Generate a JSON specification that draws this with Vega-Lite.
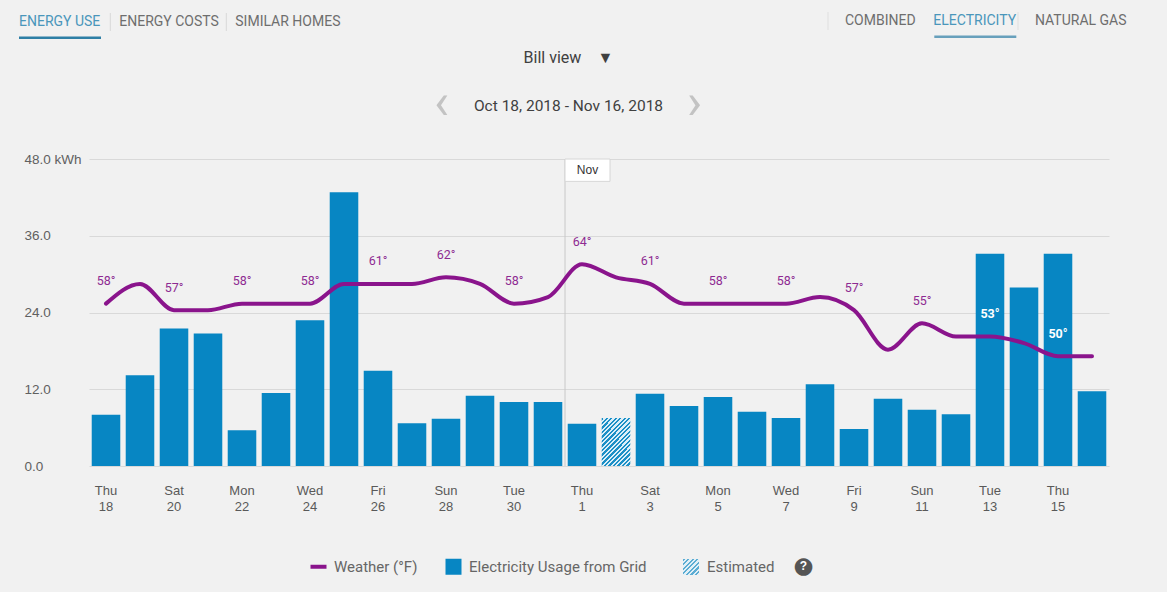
{
  "$schema": "https://vega.github.io/schema/vega-lite/v6.json",
  "width": 1020,
  "height": 307,
  "autosize": {"type": "none"},
  "padding": {"left": 89, "top": 159, "right": 58, "bottom": 126},
  "background": "#f1f1f1",
  "title": {
    "text": "Bill view\u2002\u2002▼",
    "subtitle": "Oct 18, 2018 - Nov 16, 2018",
    "anchor": "middle",
    "frame": "group",
    "dx": -30.5,
    "offset": -100,
    "subtitlePadding": 33,
    "font": "Roboto",
    "fontSize": 16,
    "fontWeight": "normal",
    "color": "#404040",
    "subtitleFont": "Roboto",
    "subtitleFontSize": 15.5,
    "subtitleColor": "#404040"
  },
  "data": {
    "values": [
      {"date": "2018-10-18", "kwh": 8.0, "temp": 58, "type": "Electricity Usage from Grid"},
      {"date": "2018-10-19", "kwh": 14.2, "temp": 61, "type": "Electricity Usage from Grid"},
      {"date": "2018-10-20", "kwh": 21.5, "temp": 57, "type": "Electricity Usage from Grid"},
      {"date": "2018-10-21", "kwh": 20.7, "temp": 57, "type": "Electricity Usage from Grid"},
      {"date": "2018-10-22", "kwh": 5.6, "temp": 58, "type": "Electricity Usage from Grid"},
      {"date": "2018-10-23", "kwh": 11.4, "temp": 58, "type": "Electricity Usage from Grid"},
      {"date": "2018-10-24", "kwh": 22.8, "temp": 58, "type": "Electricity Usage from Grid"},
      {"date": "2018-10-25", "kwh": 42.8, "temp": 61, "type": "Electricity Usage from Grid"},
      {"date": "2018-10-26", "kwh": 14.9, "temp": 61, "type": "Electricity Usage from Grid"},
      {"date": "2018-10-27", "kwh": 6.7, "temp": 61, "type": "Electricity Usage from Grid"},
      {"date": "2018-10-28", "kwh": 7.4, "temp": 62, "type": "Electricity Usage from Grid"},
      {"date": "2018-10-29", "kwh": 11.0, "temp": 61, "type": "Electricity Usage from Grid"},
      {"date": "2018-10-30", "kwh": 10.0, "temp": 58, "type": "Electricity Usage from Grid"},
      {"date": "2018-10-31", "kwh": 10.0, "temp": 59, "type": "Electricity Usage from Grid"},
      {"date": "2018-11-01", "kwh": 6.6, "temp": 64, "type": "Electricity Usage from Grid"},
      {"date": "2018-11-02", "kwh": 7.5, "temp": 62, "type": "Estimated"},
      {"date": "2018-11-03", "kwh": 11.3, "temp": 61, "type": "Electricity Usage from Grid"},
      {"date": "2018-11-04", "kwh": 9.4, "temp": 58, "type": "Electricity Usage from Grid"},
      {"date": "2018-11-05", "kwh": 10.8, "temp": 58, "type": "Electricity Usage from Grid"},
      {"date": "2018-11-06", "kwh": 8.5, "temp": 58, "type": "Electricity Usage from Grid"},
      {"date": "2018-11-07", "kwh": 7.5, "temp": 58, "type": "Electricity Usage from Grid"},
      {"date": "2018-11-08", "kwh": 12.8, "temp": 59, "type": "Electricity Usage from Grid"},
      {"date": "2018-11-09", "kwh": 5.8, "temp": 57, "type": "Electricity Usage from Grid"},
      {"date": "2018-11-10", "kwh": 10.5, "temp": 51, "type": "Electricity Usage from Grid"},
      {"date": "2018-11-11", "kwh": 8.8, "temp": 55, "type": "Electricity Usage from Grid"},
      {"date": "2018-11-12", "kwh": 8.1, "temp": 53, "type": "Electricity Usage from Grid"},
      {"date": "2018-11-13", "kwh": 33.2, "temp": 53, "type": "Electricity Usage from Grid"},
      {"date": "2018-11-14", "kwh": 27.9, "temp": 52, "type": "Electricity Usage from Grid"},
      {"date": "2018-11-15", "kwh": 33.2, "temp": 50, "type": "Electricity Usage from Grid"},
      {"date": "2018-11-16", "kwh": 11.7, "temp": 50, "type": "Electricity Usage from Grid"}
    ]
  },
  "encoding": {
    "x": {
      "field": "date",
      "type": "ordinal",
      "scale": {"paddingInner": 0.16, "paddingOuter": 0.08},
      "axis": {
        "values": ["2018-10-18", "2018-10-20", "2018-10-22", "2018-10-24", "2018-10-26", "2018-10-28", "2018-10-30", "2018-11-01", "2018-11-03", "2018-11-05", "2018-11-07", "2018-11-09", "2018-11-11", "2018-11-13", "2018-11-15"],
        "labelExpr": "[utcFormat(toDate(datum.value), '%a'), utcFormat(toDate(datum.value), '%-d')]",
        "labelAngle": 0,
        "labelFont": "Liberation Sans",
        "labelFontSize": 13,
        "labelColor": "#595959",
        "labelLineHeight": 16,
        "labelBaseline": "top",
        "labelPadding": 18,
        "ticks": false,
        "tickSize": 0,
        "domain": false,
        "grid": false,
        "title": "●",
        "titleX": 714,
        "titleY": 99,
        "titleAlign": "center",
        "titleBaseline": "middle",
        "titleFont": "DejaVu Sans",
        "titleFontSize": 23,
        "titleFontWeight": "normal",
        "titleColor": "#555555"
      }
    }
  },
  "layer": [
    {
      "layer": [
        {
          "transform": [{"filter": "datum.type !== 'Estimated'"}],
          "mark": {"type": "bar"},
          "encoding": {
            "y": {
              "field": "kwh",
              "type": "quantitative",
              "scale": {"domain": [0, 48], "nice": false},
              "axis": {
                "values": [0, 12, 24, 36, 48],
                "labelExpr": "datum.value === 48 ? '48.0 kWh' : format(datum.value, '.1f')",
                "labelAlign": "left",
                "labelBaseline": "middle",
                "labelPadding": 65,
                "labelFont": "Liberation Sans",
                "labelFontSize": 13.5,
                "labelColor": "#606060",
                "ticks": false,
                "tickSize": 0,
                "domain": false,
                "grid": true,
                "gridColor": "#d9d9d9",
                "title": "‹\u2003\u2003\u2003\u2003\u2002\u2006›",
                "titleAngle": 0,
                "titleX": 478.5,
                "titleY": -56,
                "titleAlign": "center",
                "titleBaseline": "middle",
                "titleFont": "Roboto",
                "titleFontSize": 50,
                "titleFontWeight": "normal",
                "titleColor": "#c3c3c3"
              }
            },
            "color": {
              "field": "type",
              "type": "nominal",
              "scale": {
                "domain": ["Weather (°F)", "Electricity Usage from Grid"],
                "range": ["#8a148c", "#0786c3"]
              },
              "legend": {
                "orient": "none",
                "legendX": 222,
                "legendY": 400,
                "direction": "horizontal",
                "title": null,
                "padding": 0,
                "symbolSize": 256,
                "labelFont": "Roboto",
                "labelFontSize": 15,
                "labelColor": "#666666",
                "labelLimit": 0,
                "labelOffset": 8,
                "columnPadding": 27,
                "encode": {
                  "symbols": {
                    "update": {
                      "shape": {"signal": "datum.value === 'Weather (°F)' ? 'stroke' : 'square'"},
                      "strokeWidth": {"signal": "datum.value === 'Weather (°F)' ? 4 : 0"},
                      "opacity": {"value": 1}
                    }
                  }
                }
              }
            }
          }
        },
        {
          "transform": [{"filter": "datum.type === 'Estimated'"}],
          "mark": {
            "type": "bar",
            "color": {
              "gradient": "linear",
              "x1": 0, "y1": 0, "x2": 0.704, "y2": 1.177,
              "stops": [
                {"offset": 0, "color": "#1b8fc6"}, {"offset": 0.0294, "color": "#1b8fc6"}, {"offset": 0.0294, "color": "#dbeef8"}, {"offset": 0.0588, "color": "#dbeef8"},
                {"offset": 0.0588, "color": "#1b8fc6"}, {"offset": 0.0882, "color": "#1b8fc6"}, {"offset": 0.0882, "color": "#dbeef8"}, {"offset": 0.1176, "color": "#dbeef8"},
                {"offset": 0.1176, "color": "#1b8fc6"}, {"offset": 0.1471, "color": "#1b8fc6"}, {"offset": 0.1471, "color": "#dbeef8"}, {"offset": 0.1765, "color": "#dbeef8"},
                {"offset": 0.1765, "color": "#1b8fc6"}, {"offset": 0.2059, "color": "#1b8fc6"}, {"offset": 0.2059, "color": "#dbeef8"}, {"offset": 0.2353, "color": "#dbeef8"},
                {"offset": 0.2353, "color": "#1b8fc6"}, {"offset": 0.2647, "color": "#1b8fc6"}, {"offset": 0.2647, "color": "#dbeef8"}, {"offset": 0.2941, "color": "#dbeef8"},
                {"offset": 0.2941, "color": "#1b8fc6"}, {"offset": 0.3235, "color": "#1b8fc6"}, {"offset": 0.3235, "color": "#dbeef8"}, {"offset": 0.3529, "color": "#dbeef8"},
                {"offset": 0.3529, "color": "#1b8fc6"}, {"offset": 0.3824, "color": "#1b8fc6"}, {"offset": 0.3824, "color": "#dbeef8"}, {"offset": 0.4118, "color": "#dbeef8"},
                {"offset": 0.4118, "color": "#1b8fc6"}, {"offset": 0.4412, "color": "#1b8fc6"}, {"offset": 0.4412, "color": "#dbeef8"}, {"offset": 0.4706, "color": "#dbeef8"},
                {"offset": 0.4706, "color": "#1b8fc6"}, {"offset": 0.5, "color": "#1b8fc6"}, {"offset": 0.5, "color": "#dbeef8"}, {"offset": 0.5294, "color": "#dbeef8"},
                {"offset": 0.5294, "color": "#1b8fc6"}, {"offset": 0.5588, "color": "#1b8fc6"}, {"offset": 0.5588, "color": "#dbeef8"}, {"offset": 0.5882, "color": "#dbeef8"},
                {"offset": 0.5882, "color": "#1b8fc6"}, {"offset": 0.6176, "color": "#1b8fc6"}, {"offset": 0.6176, "color": "#dbeef8"}, {"offset": 0.6471, "color": "#dbeef8"},
                {"offset": 0.6471, "color": "#1b8fc6"}, {"offset": 0.6765, "color": "#1b8fc6"}, {"offset": 0.6765, "color": "#dbeef8"}, {"offset": 0.7059, "color": "#dbeef8"},
                {"offset": 0.7059, "color": "#1b8fc6"}, {"offset": 0.7353, "color": "#1b8fc6"}, {"offset": 0.7353, "color": "#dbeef8"}, {"offset": 0.7647, "color": "#dbeef8"},
                {"offset": 0.7647, "color": "#1b8fc6"}, {"offset": 0.7941, "color": "#1b8fc6"}, {"offset": 0.7941, "color": "#dbeef8"}, {"offset": 0.8235, "color": "#dbeef8"},
                {"offset": 0.8235, "color": "#1b8fc6"}, {"offset": 0.8529, "color": "#1b8fc6"}, {"offset": 0.8529, "color": "#dbeef8"}, {"offset": 0.8824, "color": "#dbeef8"},
                {"offset": 0.8824, "color": "#1b8fc6"}, {"offset": 0.9118, "color": "#1b8fc6"}, {"offset": 0.9118, "color": "#dbeef8"}, {"offset": 0.9412, "color": "#dbeef8"},
                {"offset": 0.9412, "color": "#1b8fc6"}, {"offset": 0.9706, "color": "#1b8fc6"}, {"offset": 0.9706, "color": "#dbeef8"}, {"offset": 1, "color": "#dbeef8"}
              ]
            }
          },
          "encoding": {
            "y": {"field": "kwh", "type": "quantitative"}
          }
        },
        {
          "data": {"values": [{"date": "2018-11-01", "month": "Nov"}]},
          "mark": {"type": "rule", "color": "#c8c8c8", "strokeWidth": 1},
          "encoding": {
            "x": {"field": "date", "type": "ordinal", "bandPosition": -0.095}
          }
        },
        {
          "data": {"values": [{"date": "2018-11-01", "month": "Nov"}]},
          "mark": {"type": "bar", "width": 45, "xOffset": 5.5, "fill": "#ffffff", "stroke": "#d6d6d6", "strokeWidth": 1},
          "encoding": {
            "y": {"datum": 48, "type": "quantitative"},
            "y2": {"datum": 44.5}
          }
        },
        {
          "data": {"values": [{"date": "2018-11-01", "month": "Nov"}]},
          "mark": {"type": "text", "dx": 5.5, "font": "Liberation Sans", "fontSize": 12, "color": "#333333", "baseline": "middle", "align": "center"},
          "encoding": {
            "y": {"datum": 46.25, "type": "quantitative"},
            "text": {"field": "month"}
          }
        },
        {
          "transform": [{"filter": "false"}],
          "mark": {
            "type": "point",
            "filled": true,
            "color": {
              "gradient": "linear", "x1": 0, "y1": 0, "x2": 1, "y2": 1,
              "stops": [
                {"offset": 0, "color": "#1b8fc6"}, {"offset": 0.0714, "color": "#1b8fc6"}, {"offset": 0.0714, "color": "#dbeef8"}, {"offset": 0.1429, "color": "#dbeef8"},
                {"offset": 0.1429, "color": "#1b8fc6"}, {"offset": 0.2143, "color": "#1b8fc6"}, {"offset": 0.2143, "color": "#dbeef8"}, {"offset": 0.2857, "color": "#dbeef8"},
                {"offset": 0.2857, "color": "#1b8fc6"}, {"offset": 0.3571, "color": "#1b8fc6"}, {"offset": 0.3571, "color": "#dbeef8"}, {"offset": 0.4286, "color": "#dbeef8"},
                {"offset": 0.4286, "color": "#1b8fc6"}, {"offset": 0.5, "color": "#1b8fc6"}, {"offset": 0.5, "color": "#dbeef8"}, {"offset": 0.5714, "color": "#dbeef8"},
                {"offset": 0.5714, "color": "#1b8fc6"}, {"offset": 0.6429, "color": "#1b8fc6"}, {"offset": 0.6429, "color": "#dbeef8"}, {"offset": 0.7143, "color": "#dbeef8"},
                {"offset": 0.7143, "color": "#1b8fc6"}, {"offset": 0.7857, "color": "#1b8fc6"}, {"offset": 0.7857, "color": "#dbeef8"}, {"offset": 0.8571, "color": "#dbeef8"},
                {"offset": 0.8571, "color": "#1b8fc6"}, {"offset": 0.9286, "color": "#1b8fc6"}, {"offset": 0.9286, "color": "#dbeef8"}, {"offset": 1, "color": "#dbeef8"}
              ]
            }
          },
          "encoding": {
            "shape": {
              "datum": "Estimated", "type": "nominal",
              "scale": {"domain": ["Estimated"], "range": ["square"]},
              "legend": {
                "orient": "none", "legendX": 594, "legendY": 400, "direction": "horizontal", "title": null, "padding": 0,
                "symbolSize": 256, "symbolStrokeWidth": 0, "labelOffset": 8, "labelFont": "Roboto", "labelFontSize": 15, "labelLimit": 0, "labelColor": "#666666"
              }
            }
          }
        },
        {
          "transform": [{"filter": "false"}],
          "mark": {"type": "point", "filled": true, "color": "#2e7fa6"},
          "encoding": {
            "opacity": {
              "datum": "ENERGY USE", "type": "ordinal",
              "scale": {"domain": ["ENERGY USE"], "range": [1]},
              "legend": {
                "orient": "none", "legendX": -86, "legendY": -144, "direction": "horizontal", "title": null, "padding": 0,
                "symbolSize": 4, "symbolType": "M9,14.5H91V17H9Z", "symbolStrokeWidth": 0, "labelOffset": 2, "labelFont": "Roboto", "labelFontSize": 14, "labelLimit": 0, "labelColor": "#4a96bb"
              }
            },
            "strokeWidth": {
              "datum": "ELECTRICITY", "type": "ordinal",
              "scale": {"domain": ["ELECTRICITY"], "range": [0]},
              "legend": {
                "orient": "none", "legendX": 844.3, "legendY": -138, "direction": "horizontal", "title": null, "padding": 0,
                "symbolSize": 4, "symbolType": "M1,14.5H83V17H1Z", "labelOffset": 2, "labelFont": "Roboto", "labelFontSize": 14, "labelLimit": 0, "labelColor": "#4a96bb"
              }
            }
          }
        },
        {
          "transform": [{"filter": "false"}],
          "mark": {"type": "rule", "color": "#d9d9d9", "strokeWidth": 1},
          "encoding": {
            "strokeDash": {
              "datum": "ENERGY COSTS", "type": "nominal",
              "scale": {"domain": ["ENERGY COSTS", "SIMILAR HOMES"], "range": [[1, 0], [1, 0]]},
              "legend": {
                "orient": "none", "legendX": 14.3, "legendY": -144, "direction": "horizontal", "title": null, "padding": 0,
                "symbolSize": 4, "symbolType": "M0,-9V9", "symbolStrokeColor": "#d9d9d9", "symbolStrokeWidth": 1, "labelOffset": 2, "columnPadding": 0, "labelFont": "Roboto", "labelFontSize": 14, "labelLimit": 0, "labelColor": "#6e6e6e"
              }
            }
          }
        },
        {
          "transform": [{"filter": "false"}],
          "mark": {"type": "point", "filled": false, "color": "#d9d9d9", "strokeWidth": 1},
          "encoding": {
            "size": {
              "datum": "COMBINED", "type": "ordinal",
              "scale": {"domain": ["COMBINED", "NATURAL GAS"], "range": [4, 4]},
              "legend": {
                "orient": "none", "legendX": 740, "legendY": -145, "direction": "horizontal", "title": null, "padding": 0,
                "symbolType": "M-8,-9V9", "symbolStrokeColor": "#d9d9d9", "symbolStrokeWidth": 1, "labelOffset": 2, "columnPadding": 100, "labelFont": "Roboto", "labelFontSize": 14, "labelLimit": 0, "labelColor": "#6e6e6e"
              }
            }
          }
        }
      ]
    },
    {
      "encoding": {
        "y": {
          "field": "temp",
          "type": "quantitative",
          "scale": {"domain": [33.3, 80], "nice": false, "zero": false},
          "axis": {
            "orient": "right",
            "labels": false,
            "ticks": false,
            "domain": false,
            "grid": false,
            "title": "?",
            "titleAngle": 0,
            "titleX": -306,
            "titleY": 406,
            "titleAlign": "center",
            "titleBaseline": "middle",
            "titleFont": "Liberation Sans",
            "titleFontSize": 12,
            "titleFontWeight": "bold",
            "titleColor": "#ffffff"
          }
        }
      },
      "layer": [
        {
          "mark": {"type": "line", "interpolate": "monotone", "strokeWidth": 4, "strokeCap": "round"},
          "encoding": {
            "color": {"datum": "Weather (°F)", "type": "nominal"}
          }
        },
        {
          "transform": [
            {"filter": "((toDate(datum.date) - toDate('2018-10-18')) / 86400000) % 2 === 0"},
            {"filter": "datum.temp > 53"}
          ],
          "mark": {"type": "text", "dy": -22.5, "font": "Roboto", "fontSize": 12.5, "color": "#8e2a92", "align": "center", "baseline": "middle", "text": {"expr": "datum.temp + '°'"}}
        },
        {
          "transform": [
            {"filter": "((toDate(datum.date) - toDate('2018-10-18')) / 86400000) % 2 === 0"},
            {"filter": "datum.temp <= 53"}
          ],
          "mark": {"type": "text", "dy": -22.5, "font": "Roboto", "fontSize": 12.5, "fontWeight": "bold", "color": "#ffffff", "align": "center", "baseline": "middle", "text": {"expr": "datum.temp + '°'"}}
        }
      ]
    }
  ],
  "resolve": {"scale": {"y": "independent"}},
  "config": {
    "view": {"stroke": null},
    "font": "Roboto"
  }
}
